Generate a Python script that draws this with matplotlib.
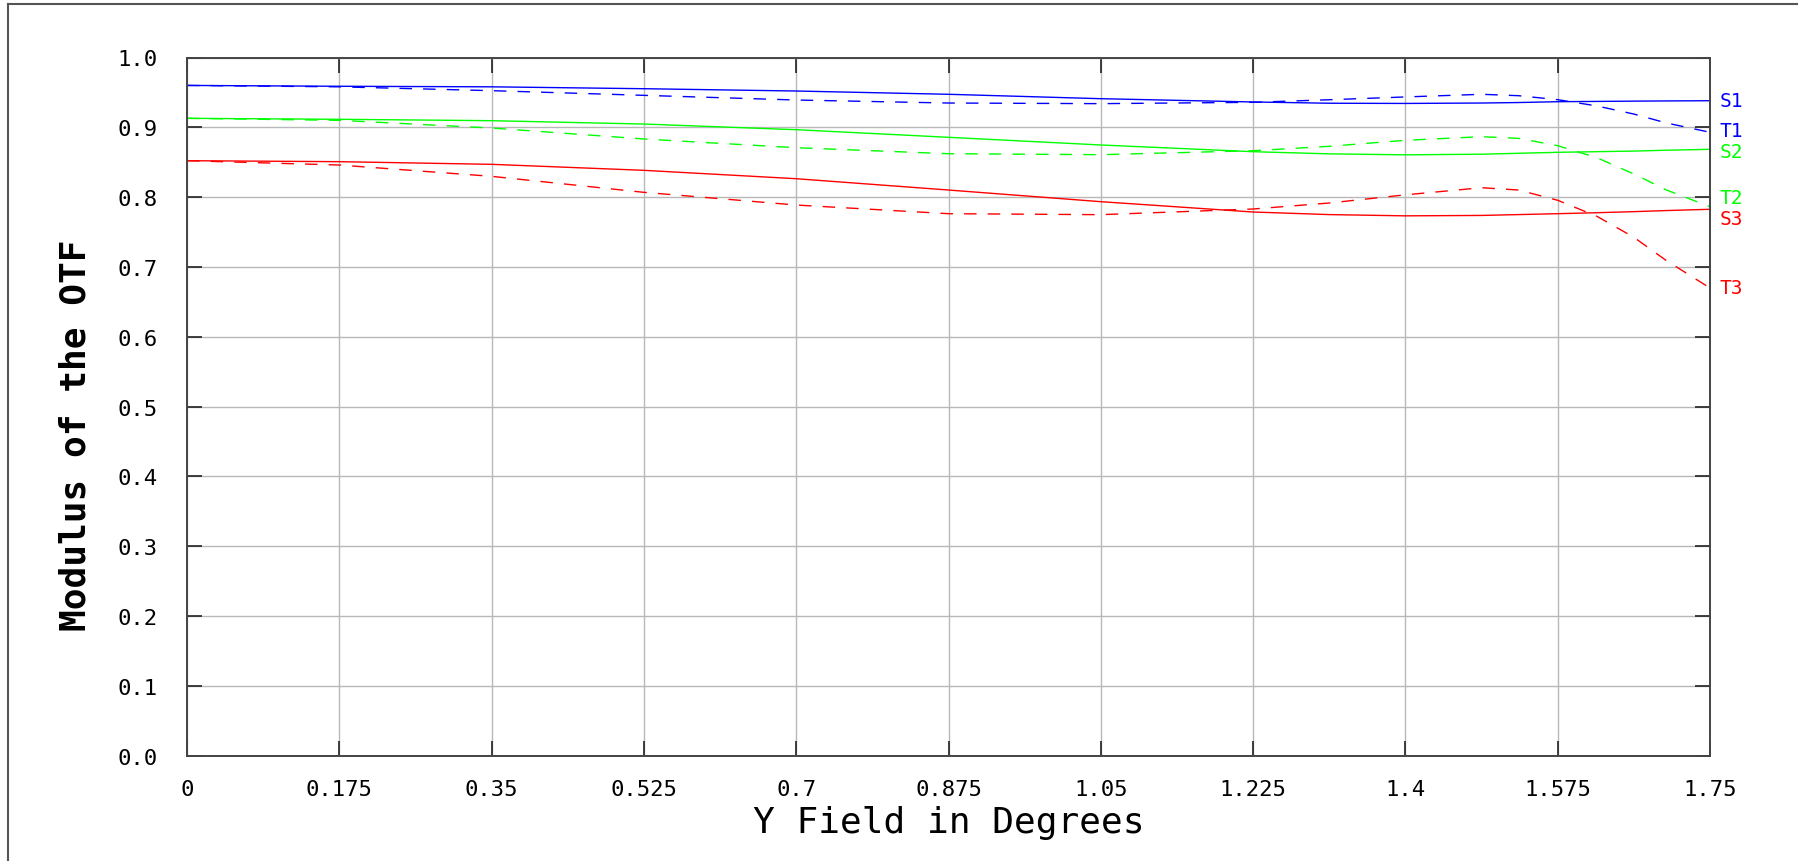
import numpy as np
import matplotlib
matplotlib.use("Agg")
import matplotlib.pyplot as plt
from matplotlib.lines import Line2D

# field positions (deg) where values were read
field = [0, 0.175, 0.35, 0.525, 0.7, 0.875, 1.05, 1.225, 1.3125, 1.4, 1.4875, 1.53, 1.575, 1.62, 1.6625, 1.7, 1.75]

s1 = [0.960, 0.9588, 0.958, 0.9553, 0.952, 0.9473, 0.941, 0.9363, 0.9345, 0.9342, 0.9348, 0.9355, 0.9367, 0.9371, 0.9375, 0.9378, 0.9381]
t1 = [0.960, 0.958, 0.9525, 0.9458, 0.9391, 0.9348, 0.9339, 0.9358, 0.9395, 0.9435, 0.9473, 0.9453, 0.9396, 0.9306, 0.919, 0.9062, 0.8929]
s2 = [0.9129, 0.9115, 0.9095, 0.9047, 0.8966, 0.8857, 0.8747, 0.8651, 0.862, 0.8606, 0.8615, 0.8628, 0.8642, 0.8651, 0.866, 0.8672, 0.8685]
t2 = [0.9129, 0.910, 0.899, 0.8833, 0.8708, 0.8622, 0.8608, 0.8665, 0.8728, 0.8814, 0.8866, 0.8842, 0.8737, 0.8565, 0.8332, 0.8102, 0.7863]
s3 = [0.8522, 0.8508, 0.847, 0.8384, 0.8264, 0.8102, 0.7935, 0.7787, 0.775, 0.7732, 0.7738, 0.775, 0.7763, 0.7777, 0.7792, 0.7808, 0.7826]
t3 = [0.8522, 0.846, 0.8298, 0.8069, 0.7887, 0.7763, 0.7749, 0.783, 0.7916, 0.8033, 0.8135, 0.8102, 0.7955, 0.7726, 0.7425, 0.709, 0.6699]

series = [("S1", s1, "#0000ff", "-"), ("T1", t1, "#0000ff", "--"),
          ("S2", s2, "#00ff00", "-"), ("T2", t2, "#00ff00", "--"),
          ("S3", s3, "#ff0000", "-"), ("T3", t3, "#ff0000", "--")]
# where the end labels sit (nudged apart a little, like the original)
label_y = {"S1": 0.938, "T1": 0.8955, "S2": 0.8655, "T2": 0.800, "S3": 0.770, "T3": 0.670}

xticks = [0, 0.175, 0.35, 0.525, 0.7, 0.875, 1.05, 1.225, 1.4, 1.575, 1.75]
xticklabels = ["0", "0.175", "0.35", "0.525", "0.7", "0.875", "1.05", "1.225", "1.4", "1.575", "1.75"]
yticks = np.round(np.arange(0, 1.01, 0.1), 1)

plt.rcParams['font.family'] = ['DejaVu Sans Mono', 'DejaVu Sans']

fig = plt.figure(figsize=(17.98, 8.62), dpi=100)
ax = fig.add_axes([187 / 1798, 1 - 756.7 / 862, (1710 - 187) / 1798, (756.7 - 58.5) / 862])

for name, vals, col, ls in series:
    if ls == "--":
        ax.plot(field, vals, color=col, lw=1.0, dashes=(9, 8))
    else:
        ax.plot(field, vals, color=col, lw=1.0)
    ax.text(1.75 + 0.011, label_y[name], name, color=col, fontsize=14,
            va="center", ha="left", clip_on=False)

ax.set_xlim(0, 1.75)
ax.set_ylim(0, 1.0)
ax.set_xticks(xticks)
ax.set_xticklabels(xticklabels)
ax.set_yticks(yticks)
ax.set_yticklabels(["%.1f" % v for v in yticks])
ax.grid(True, color="#b8b8b8", lw=1.0)
ax.tick_params(direction="in", length=11, width=1.2, color="#222222",
               top=True, right=True, labelsize=16, pad=17)
ax.tick_params(axis="y", pad=21)
for sp in ax.spines.values():
    sp.set_color("#444444")
    sp.set_linewidth(1.4)

ax.set_xlabel("Y Field in Degrees", fontsize=26, labelpad=4)
ax.set_ylabel("Modulus of the OTF", fontsize=26, fontweight="bold")
ax.yaxis.set_label_coords(-0.062, 0.46)

# outer frame, only top and left edges show
fy = 1 - 5 / 862
fx = 8 / 1798
fig.add_artist(Line2D([fx, fx], [0, fy], color="#555555", lw=1.5, transform=fig.transFigure))
fig.add_artist(Line2D([fx, 1], [fy, fy], color="#555555", lw=1.5, transform=fig.transFigure))

fig.savefig("out.png", dpi=100)
